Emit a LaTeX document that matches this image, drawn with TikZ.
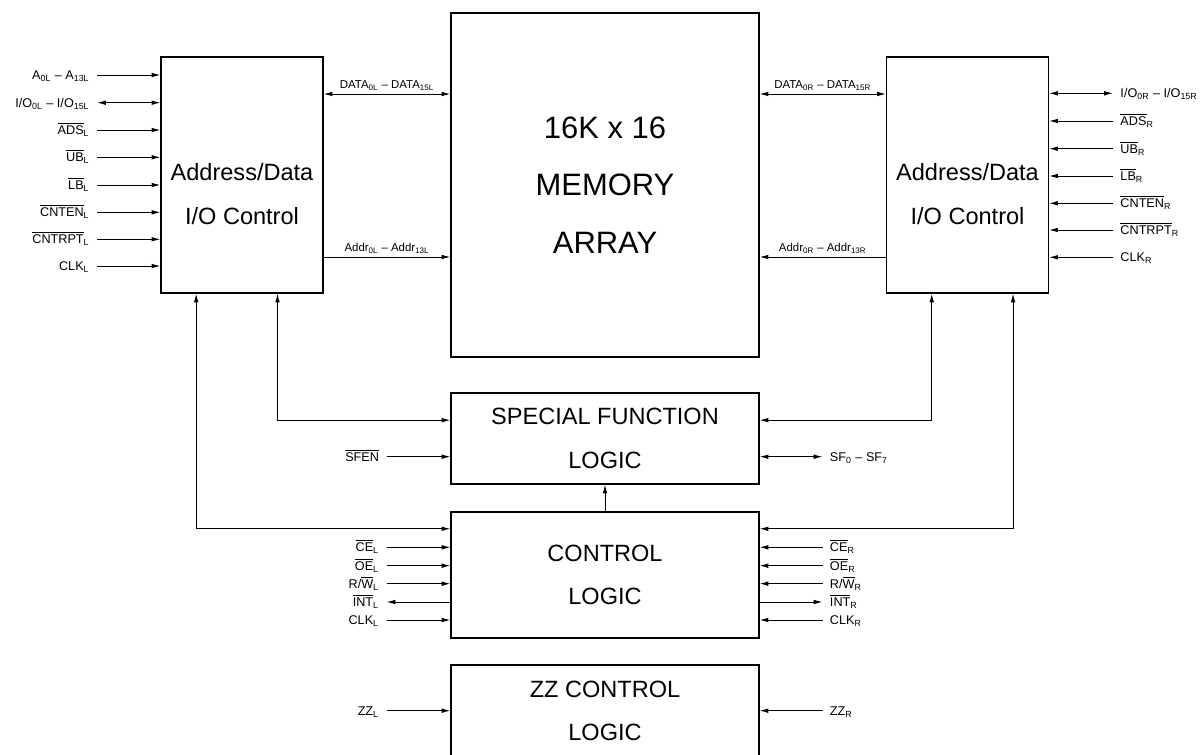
\documentclass[tikz,border=0pt]{standalone}
\usepackage{fontspec}
\setmainfont{Liberation Sans}
\usetikzlibrary{arrows.meta,positioning}
\newcommand{\ovl}[1]{$\overline{\mbox{#1}}$}
\newcommand{\sbs}[1]{\textsubscript{#1}}

\begin{document}
\begin{tikzpicture}[>={Latex[length=5pt, width=2.6pt]}, line width=0.55pt]
	\tikzstyle{blk}=[draw=black, line width=0.6pt, minimum width=6.16cm, inner sep=0pt, align=center, font=\fontsize{13.4}{24.7}\selectfont];
	\tikzstyle{side}=[draw=black, line width=0.6pt, minimum width=3.24cm, minimum height=4.72cm, inner sep=0pt];
	\tikzstyle{sidetxt}=[align=center, font=\fontsize{13.4}{24.7}\selectfont];
	\tikzstyle{pinl}=[anchor=east, inner xsep=0.14cm, inner ysep=0pt, text height=5.2pt, text depth=0pt, font=\fontsize{7.2}{8}\selectfont];
	\tikzstyle{pinr}=[pinl, anchor=west];
	\tikzstyle{bus}=[above, inner sep=1.5pt, font=\fontsize{6.5}{8}\selectfont];

   \useasboundingbox (0,0) rectangle (24.04,-15.1);

   % blocks
   \node[side] (lbox) at (4.84,-3.5) {};
   \node[side] (rbox) at (19.35,-3.5) {};
   \node[sidetxt] at ([yshift=-0.38cm]lbox.center) {Address/Data\\I/O Control};
   \node[sidetxt] at ([yshift=-0.38cm]rbox.center) {Address/Data\\I/O Control};
   \node[blk, minimum height=6.88cm, font=\fontsize{17.6}{32.7}\selectfont] (mem) at (12.1,-3.7) {16K x 16\\MEMORY\\ARRAY};
   \node[blk, minimum height=1.82cm] (sfl) at (12.1,-8.77) {SPECIAL FUNCTION\\LOGIC};
   \node[blk, minimum height=2.52cm] (ctl) at (12.1,-11.5) {CONTROL\\LOGIC};
   \node[blk, minimum height=1.84cm] (zzc) at (12.1,-14.22) {ZZ CONTROL\\LOGIC};

   % left port pins
   \node[pinl] (a0l) at (1.94,-1.5) {A\sbs{0L} – A\sbs{13L}};
   \node[pinl] (io0l) at (1.94,-2.054) {I/O\sbs{0L} – I/O\sbs{15L}};
   \node[pinl] (adsl) at (1.94,-2.6) {\ovl{ADS}\sbs{L}};
   \node[pinl] (ubl) at (1.94,-3.146) {\ovl{UB}\sbs{L}};
   \node[pinl] (lbl) at (1.94,-3.7) {\ovl{LB}\sbs{L}};
   \node[pinl] (cntenl) at (1.94,-4.246) {\ovl{CNTEN}\sbs{L}};
   \node[pinl] (cntrptl) at (1.94,-4.786) {\ovl{CNTRPT}\sbs{L}};
   \node[pinl] (clkl) at (1.94,-5.32) {CLK\sbs{L}};
   \draw[->] (a0l) -- (a0l -| lbox.west);
   \draw[<->] (io0l) -- (io0l -| lbox.west);
   \draw[->] (adsl) -- (adsl -| lbox.west);
   \draw[->] (ubl) -- (ubl -| lbox.west);
   \draw[->] (lbl) -- (lbl -| lbox.west);
   \draw[->] (cntenl) -- (cntenl -| lbox.west);
   \draw[->] (cntrptl) -- (cntrptl -| lbox.west);
   \draw[->] (clkl) -- (clkl -| lbox.west);

   % right port pins
   \node[pinr] (io0r) at (22.26,-1.866) {I/O\sbs{0R} – I/O\sbs{15R}};
   \node[pinr] (adsr) at (22.26,-2.42) {\ovl{ADS}\sbs{R}};
   \node[pinr] (ubr) at (22.26,-2.974) {\ovl{UB}\sbs{R}};
   \node[pinr] (lbr) at (22.26,-3.52) {\ovl{LB}\sbs{R}};
   \node[pinr] (cntenr) at (22.26,-4.066) {\ovl{CNTEN}\sbs{R}};
   \node[pinr] (cntrptr) at (22.26,-4.6) {\ovl{CNTRPT}\sbs{R}};
   \node[pinr] (clkr) at (22.26,-5.146) {CLK\sbs{R}};
   \draw[<->] (rbox.east |- io0r) -- (io0r);
   \draw[<-] (rbox.east |- adsr) -- (adsr);
   \draw[<-] (rbox.east |- ubr) -- (ubr);
   \draw[<-] (rbox.east |- lbr) -- (lbr);
   \draw[<-] (rbox.east |- cntenr) -- (cntenr);
   \draw[<-] (rbox.east |- cntrptr) -- (cntrptr);
   \draw[<-] (rbox.east |- clkr) -- (clkr);

   % buses to the array
   \coordinate (dy) at (0,-1.88);
   \coordinate (ay) at (0,-5.14);
   \draw[<->] (lbox.east |- dy) -- node[bus] {DATA\sbs{0L} – DATA\sbs{15L}} (mem.west |- dy);
   \draw[->] (lbox.east |- ay) -- node[bus] {Addr\sbs{0L} – Addr\sbs{13L}} (mem.west |- ay);
   \draw[<->] (mem.east |- dy) -- node[bus] {DATA\sbs{0R} – DATA\sbs{15R}} (rbox.west |- dy);
   \draw[<-] (mem.east |- ay) -- node[bus] {Addr\sbs{0R} – Addr\sbs{13R}} (rbox.west |- ay);

   % links to the logic blocks
   \draw[<->] ([xshift=0.714cm]lbox.south west) |- ([yshift=-0.346cm]ctl.north west);
   \draw[<->] ([xshift=2.34cm]lbox.south west) |- ([yshift=-0.554cm]sfl.north west);
   \draw[<->] ([xshift=-0.72cm]rbox.south east) |- ([yshift=-0.346cm]ctl.north east);
   \draw[<->] ([xshift=-2.346cm]rbox.south east) |- ([yshift=-0.554cm]sfl.north east);
   \draw[->] (ctl) -- (sfl);

   % special function pins
   \node[pinl] (sfen) at (7.73,-9.134) {\ovl{SFEN}};
   \node[pinr] (sfo) at (16.45,-9.134) {SF\sbs{0} – SF\sbs{7}};
   \draw[->] (sfen) -- (sfen -| sfl.west);
   \draw[<->] (sfl.east |- sfo) -- (sfo);

   % control pins
   \node[pinl] (cel) at (7.73,-10.946) {\ovl{CE}\sbs{L}};
   \node[pinl] (oel) at (7.73,-11.314) {\ovl{OE}\sbs{L}};
   \node[pinl] (rwl) at (7.73,-11.674) {R/\ovl{W}\sbs{L}};
   \node[pinl] (intl) at (7.73,-12.04) {\ovl{INT}\sbs{L}};
   \node[pinl] (cclkl) at (7.73,-12.4) {CLK\sbs{L}};
   \draw[->] (cel) -- (cel -| ctl.west);
   \draw[->] (oel) -- (oel -| ctl.west);
   \draw[->] (rwl) -- (rwl -| ctl.west);
   \draw[<-] (intl) -- (intl -| ctl.west);
   \draw[->] (cclkl) -- (cclkl -| ctl.west);
   \node[pinr] (cer) at (16.45,-10.946) {\ovl{CE}\sbs{R}};
   \node[pinr] (oer) at (16.45,-11.314) {\ovl{OE}\sbs{R}};
   \node[pinr] (rwr) at (16.45,-11.674) {R/\ovl{W}\sbs{R}};
   \node[pinr] (intr) at (16.45,-12.04) {\ovl{INT}\sbs{R}};
   \node[pinr] (cclkr) at (16.45,-12.4) {CLK\sbs{R}};
   \draw[<-] (ctl.east |- cer) -- (cer);
   \draw[<-] (ctl.east |- oer) -- (oer);
   \draw[<-] (ctl.east |- rwr) -- (rwr);
   \draw[->] (ctl.east |- intr) -- (intr);
   \draw[<-] (ctl.east |- cclkr) -- (cclkr);

   % sleep pins
   \node[pinl] (zzl) at (7.73,-14.214) {ZZ\sbs{L}};
   \node[pinr] (zzr) at (16.45,-14.214) {ZZ\sbs{R}};
   \draw[->] (zzl) -- (zzl -| zzc.west);
   \draw[<-] (zzc.east |- zzr) -- (zzr);

\end{tikzpicture}
\end{document}
